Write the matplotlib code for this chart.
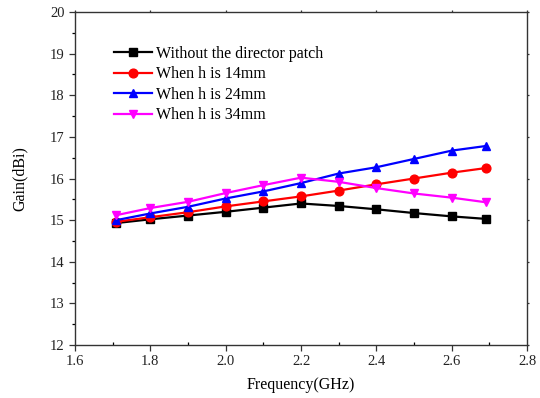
import matplotlib
matplotlib.use("Agg")
import matplotlib.pyplot as plt
from matplotlib.ticker import MultipleLocator, FormatStrFormatter

freq = [1.71, 1.8, 1.9, 2.0, 2.1, 2.2, 2.3, 2.4, 2.5, 2.6, 2.69]
gain_no_director = [14.93, 15.02, 15.11, 15.20, 15.30, 15.40, 15.34, 15.26, 15.17, 15.09, 15.03]
gain_h14 = [14.96, 15.07, 15.19, 15.33, 15.45, 15.57, 15.71, 15.86, 16.00, 16.14, 16.25]
gain_h24 = [15.00, 15.16, 15.32, 15.52, 15.69, 15.89, 16.12, 16.27, 16.47, 16.67, 16.78]
gain_h34 = [15.12, 15.29, 15.44, 15.65, 15.84, 16.02, 15.92, 15.77, 15.64, 15.54, 15.43]

labels = ["Without the director patch", "When h is 14mm", "When h is 24mm", "When h is 34mm"]
colors = ["black", "red", "blue", "magenta"]
markers = ["s", "o", "^", "v"]

plt.rcParams["font.family"] = ["Liberation Serif", "DejaVu Serif"]

fig = plt.figure(figsize=(5.4, 3.98), dpi=100)
ax = fig.add_axes([0.1389, 0.1332, 0.976 - 0.1389, 0.9698 - 0.1332])

for y, lab, c, m in zip([gain_no_director, gain_h14, gain_h24, gain_h34], labels, colors, markers):
    ax.plot(freq, y, color=c, marker=m, lw=1.6, ms=6.3, label=lab)

ax.set_xlim(1.6, 2.8)
ax.set_ylim(12, 20)
ax.xaxis.set_major_locator(MultipleLocator(0.2))
ax.xaxis.set_minor_locator(MultipleLocator(0.1))
ax.yaxis.set_major_locator(MultipleLocator(1))
ax.yaxis.set_minor_locator(MultipleLocator(0.5))
ax.xaxis.set_major_formatter(FormatStrFormatter("%.1f"))

for s in ax.spines.values():
    s.set_linewidth(1.0)
    s.set_color("#333333")

ax.tick_params(axis="both", which="major", direction="out", length=4, width=0.9, labelsize=10.5, colors="#333333", labelcolor="#222222")
ax.tick_params(axis="y", which="minor", direction="out", length=2.5, width=0.9)
ax.tick_params(axis="x", which="minor", direction="in", length=2.5, width=0.9)
ax.tick_params(top=True, right=True, which="major")
for t in ax.xaxis.get_major_ticks():
    t.tick2line.set_markersize(1.5)
for t in ax.yaxis.get_major_ticks():
    t.tick2line.set_markersize(1.5)

ax.set_xlabel("Frequency(GHz)", fontsize=11.5, labelpad=6)
ax.set_ylabel("Gain(dBi)", fontsize=11.5, labelpad=16)

leg = ax.legend(loc="upper left", bbox_to_anchor=(0.072, 0.918), frameon=False,
                fontsize=11.5, handlelength=2.4, handletextpad=0.25, labelspacing=0.28,
                borderaxespad=0.0)

fig.savefig("out.png", dpi=100)
